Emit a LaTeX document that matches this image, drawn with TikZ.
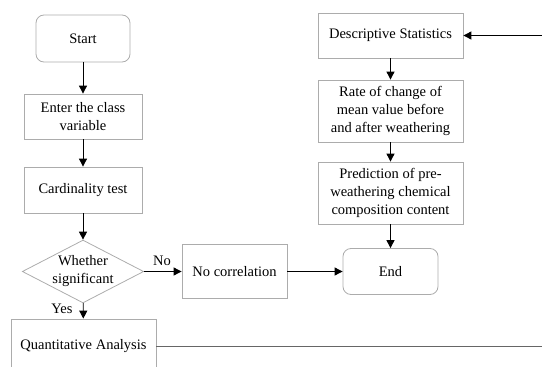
\documentclass[tikz,border=0pt]{standalone}
\usepackage{fontspec}
\setmainfont{Liberation Serif}
\usetikzlibrary{shapes.geometric,arrows.meta}
\begin{document}
\begin{tikzpicture}[x=1pt,y=-1pt,
  every node/.style={font=\fontsize{14.5}{18}\selectfont, align=center, inner sep=0pt},
  box/.style={draw=gray!65, line width=0.8pt, minimum width=#1},
  rbox/.style={draw=gray!65, line width=0.8pt, rounded corners=8pt},
  dec/.style={draw=gray!65, line width=0.8pt, shape=diamond, aspect=1.93, minimum width=118pt, minimum height=61pt},
  arr/.style={-{Triangle[length=8pt,width=8pt]}, line width=0.9pt, black},
  ln/.style={line width=0.9pt, black!80}]
\useasboundingbox (0,0) rectangle (542,367);
\clip (0,0) rectangle (542,367);
\node[rbox, minimum width=94pt, minimum height=47pt] (start) at (83,38.5) {Start};
\node[box=118pt, minimum height=45pt] (enter) at (83,116.5) {Enter the class\\variable};
\node[box=118pt, minimum height=46pt] (card) at (83,190) {Cardinality test};
\node[dec] (sig) at (83,271.5) {Whether\\significant};
\node[box=105pt, minimum height=54pt] (nocor) at (234.5,271.5) {No correlation};
\node[rbox, minimum width=95pt, minimum height=46pt] (end) at (390.5,271.5) {End};
\node[box=145pt, minimum height=54pt] (quant) at (83.5,346) {Quantitative Analysis};
\node[box=145pt, minimum height=45pt] (desc) at (390.5,35.5) {Descriptive Statistics};
\node[box=145pt, minimum height=62pt] (rate) at (390.5,111) {Rate of change of\\mean value before\\and after weathering};
\node[box=145pt, minimum height=62pt] (pred) at (390.5,193) {Prediction of pre-\\weathering chemical\\composition content};
\coordinate (rin) at (542,35.5);
\coordinate (rout) at (542,346);
\draw[arr] (start) -- (enter);
\draw[arr] (enter) -- (card);
\draw[arr] (card) -- (sig);
\draw[arr] (sig) -- (nocor);
\draw[arr] (sig) -- (quant);
\node (nolab) at (162,261) {No};
\node (yeslab) at (62,309) {Yes};
\draw[arr] (nocor) -- (end);
\draw[arr] (desc) -- (rate);
\draw[arr] (rate) -- (pred);
\draw[arr] (pred) -- (end);
\draw[arr] (rin) -- (desc);
\draw[ln, gray!80!black] (quant) -- (rout);
\end{tikzpicture}
\end{document}
